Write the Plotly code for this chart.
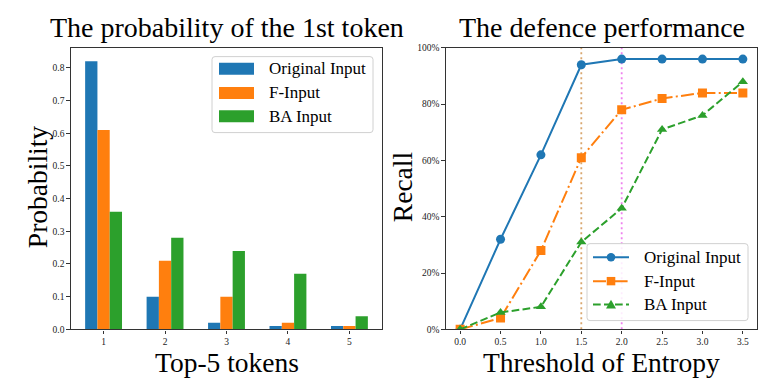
import plotly.graph_objects as go

# ---------------- data ----------------
tokens = [1, 2, 3, 4, 5]
prob_original = [0.82, 0.10, 0.02, 0.01, 0.01]
prob_finput = [0.61, 0.21, 0.10, 0.02, 0.01]
prob_ba = [0.36, 0.28, 0.24, 0.17, 0.04]

entropy_thresholds = [0.0, 0.5, 1.0, 1.5, 2.0, 2.5, 3.0, 3.5]
recall_original = [0.00, 0.32, 0.62, 0.94, 0.96, 0.96, 0.96, 0.96]
recall_finput = [0.00, 0.04, 0.28, 0.61, 0.78, 0.82, 0.84, 0.84]
recall_ba = [0.00, 0.06, 0.08, 0.31, 0.43, 0.71, 0.76, 0.88]

marked_thresholds = [1.5, 2.0]

series_names = ["Original Input", "F-Input", "BA Input"]

# ---------------- styling ----------------
W, H = 783, 385
BLUE, ORANGE, GREEN = "#1f77b4", "#ff7f0e", "#2ca02c"
SERIF = "Liberation Serif, Times New Roman, serif"
SPINE = "#333333"


def px(x):
    return x / W


def py(y):
    return 1 - y / H


fig = go.Figure()

# bars (left)
for name, vals, col in zip(series_names, [prob_original, prob_finput, prob_ba], [BLUE, ORANGE, GREEN]):
    fig.add_trace(go.Bar(x=tokens, y=vals, name=name, marker=dict(color=col, line=dict(width=0)),
                         xaxis="x", yaxis="y", showlegend=False))

# lines (right)
line_specs = [
    (recall_original, BLUE, "solid", "circle"),
    (recall_finput, ORANGE, "13px,3.3px,2px,3.3px", "square"),
    (recall_ba, GREEN, "7.7px,3.3px", "triangle-up"),
]
for name, (vals, col, dash, sym) in zip(series_names, line_specs):
    fig.add_trace(go.Scatter(x=entropy_thresholds, y=vals, name=name, mode="lines+markers",
                             line=dict(color=col, width=2, dash=dash),
                             marker=dict(symbol=sym, size=9, color=col),
                             xaxis="x2", yaxis="y2", showlegend=False))

shapes = []
# threshold reference lines
for xv, col in zip(marked_thresholds, ["#d9a66e", "#ee82ee"]):
    shapes.append(dict(type="line", xref="x2", yref="y2 domain", x0=xv, x1=xv, y0=0, y1=1,
                       line=dict(color=col, width=1.8, dash="2px,3px"), layer="below"))


def rounded_box(x0, y0, x1, y1, r=3):
    X0, X1 = px(x0), px(x1)
    Y0, Y1 = py(y0), py(y1)
    rx, ry = r / W, r / H
    path = (f"M {X0+rx},{Y0} L {X1-rx},{Y0} Q {X1},{Y0} {X1},{Y0-ry} "
            f"L {X1},{Y1+ry} Q {X1},{Y1} {X1-rx},{Y1} L {X0+rx},{Y1} Q {X0},{Y1} {X0},{Y1+ry} "
            f"L {X0},{Y0-ry} Q {X0},{Y0} {X0+rx},{Y0} Z")
    return dict(type="path", xref="paper", yref="paper", path=path,
                fillcolor="rgba(255,255,255,0.85)", line=dict(color="#d0d0d0", width=1))


annotations = []
legend_font = dict(family=SERIF, size=17, color="black")

# left legend (manual)
shapes.append(rounded_box(212, 53, 373, 131))
for (name, col), cy in zip(zip(series_names, [BLUE, ORANGE, GREEN]), [65.5, 90.3, 114.3]):
    shapes.append(dict(type="rect", xref="paper", yref="paper", x0=px(219), x1=px(254),
                       y0=py(cy + 6.2), y1=py(cy - 6.2), fillcolor=col, line=dict(width=0)))
    annotations.append(dict(x=px(267), y=py(cy), xref="paper", yref="paper", text=name,
                            showarrow=False, xanchor="left", yanchor="middle", font=legend_font))

# right legend (manual)
shapes.append(rounded_box(587, 245, 748, 324))
for (name, spec), cy in zip(zip(series_names, line_specs), [259, 283.5, 307.5]):
    vals, col, dash, sym = spec
    shapes.append(dict(type="line", xref="paper", yref="paper", x0=px(593), x1=px(629),
                       y0=py(cy), y1=py(cy), line=dict(color=col, width=2, dash=dash)))
    cx = 611
    if sym == "circle":
        shapes.append(dict(type="circle", xref="paper", yref="paper", x0=px(cx - 4.3), x1=px(cx + 4.3),
                           y0=py(cy + 4.3), y1=py(cy - 4.3), fillcolor=col, line=dict(width=0)))
    elif sym == "square":
        shapes.append(dict(type="rect", xref="paper", yref="paper", x0=px(cx - 4.3), x1=px(cx + 4.3),
                           y0=py(cy + 4.3), y1=py(cy - 4.3), fillcolor=col, line=dict(width=0)))
    else:
        path = (f"M {px(cx)},{py(cy - 5)} L {px(cx + 5)},{py(cy + 4)} L {px(cx - 5)},{py(cy + 4)} Z")
        shapes.append(dict(type="path", xref="paper", yref="paper", path=path,
                           fillcolor=col, line=dict(width=0)))
    annotations.append(dict(x=px(642), y=py(cy), xref="paper", yref="paper", text=name,
                            showarrow=False, xanchor="left", yanchor="middle", font=legend_font))

big_font = dict(family=SERIF, size=28, color="black")
label_font = dict(family=SERIF, size=27.5, color="black")
# titles
annotations.append(dict(x=px(226.5), y=py(23), xref="paper", yref="paper",
                        text="The probability of the 1st token", showarrow=False,
                        xanchor="center", yanchor="middle", font=big_font))
annotations.append(dict(x=px(601.5), y=py(23), xref="paper", yref="paper",
                        text="The defence performance", showarrow=False,
                        xanchor="center", yanchor="middle", font=big_font))
# axis labels
annotations.append(dict(x=px(37), y=py(187), xref="paper", yref="paper", text="Probability",
                        showarrow=False, textangle=-90, xanchor="center", yanchor="middle", font=label_font))
annotations.append(dict(x=px(402), y=py(187), xref="paper", yref="paper", text="Recall",
                        showarrow=False, textangle=-90, xanchor="center", yanchor="middle", font=label_font))
annotations.append(dict(x=px(227), y=py(367), xref="paper", yref="paper", text="Top-5 tokens",
                        showarrow=False, xanchor="center", yanchor="middle", font=label_font,
                        borderpad=0))
annotations.append(dict(x=px(601), y=py(367), xref="paper", yref="paper", text="Threshold of Entropy",
                        showarrow=False, xanchor="center", yanchor="middle", font=label_font,
                        borderpad=0))

tick_font = dict(family=SERIF, size=9.5, color="#222222")
axis_common = dict(showline=True, linecolor=SPINE, linewidth=1.3, mirror=True, showgrid=False,
                   zeroline=False, ticks="outside", ticklen=3.5, tickwidth=1, tickcolor=SPINE,
                   tickfont=tick_font)

fig.update_layout(
    width=W, height=H,
    margin=dict(l=0, r=0, t=0, b=0),
    paper_bgcolor="white", plot_bgcolor="white",
    barmode="group", bargap=0.4, bargroupgap=0,
    showlegend=False,
    xaxis=dict(domain=[px(71), px(382)], range=[0.47, 5.53], tickmode="array",
               tickvals=tokens, ticktext=[str(t) for t in tokens], anchor="y", **axis_common),
    yaxis=dict(domain=[py(333), py(44)], range=[0, 0.861], tickmode="linear", tick0=0, dtick=0.1,
               tickformat=".1f", anchor="x", **axis_common),
    xaxis2=dict(domain=[px(446), px(757)], range=[-0.175, 3.675], tickmode="linear", tick0=0,
                dtick=0.5, tickformat=".1f", anchor="y2", **axis_common),
    yaxis2=dict(domain=[py(333), py(44)], range=[0, 1], tickmode="linear", tick0=0, dtick=0.2,
                tickformat=".0%", anchor="x2", **axis_common),
    shapes=shapes,
    annotations=annotations,
)

fig.write_html("out.html",
               config={"displayModeBar": False},
               post_script="document.body.style.margin='0';document.body.style.padding='0';"
                           "document.documentElement.style.overflow='hidden';")
